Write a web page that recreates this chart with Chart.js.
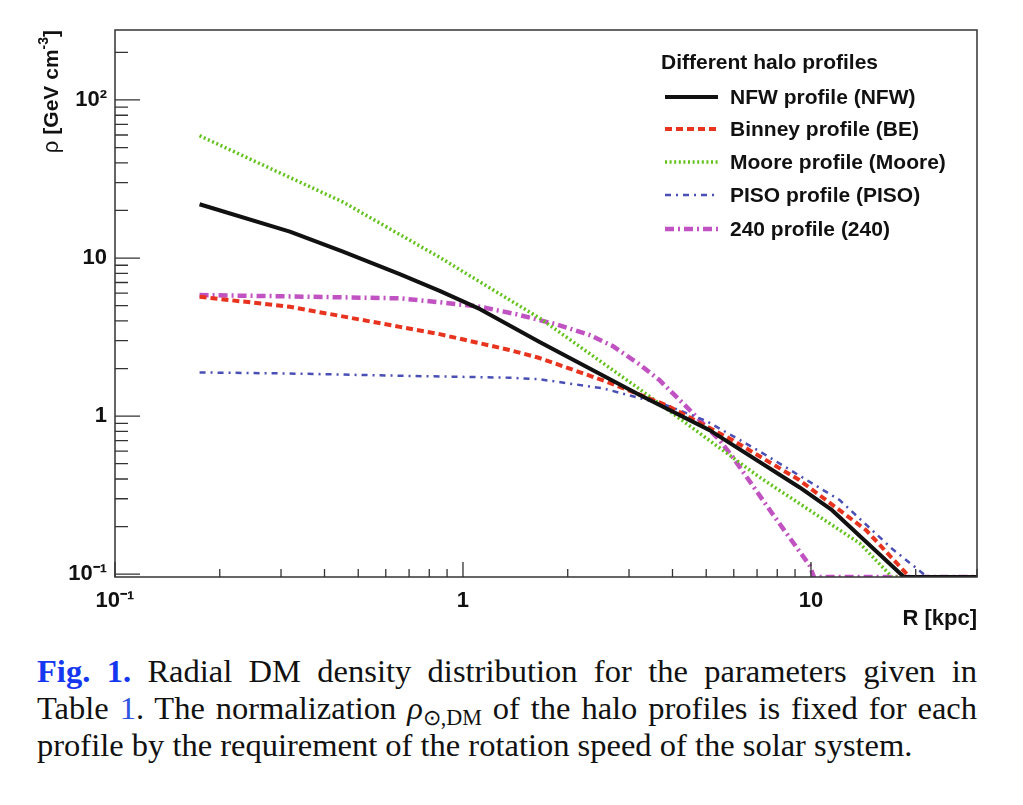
<!DOCTYPE html>
<html>
<head>
<meta charset="utf-8">
<script src="https://cdn.jsdelivr.net/npm/chart.js@4.4.1/dist/chart.umd.min.js"></script>
<style>
  body { margin: 0; background: #fff; width: 1023px; height: 805px; position: relative; overflow: hidden; }
  #chartHalo { position: absolute; left: 0; top: 0; }
  #caption {
    position: absolute; left: 37px; top: 653px; width: 940px;
    font-family: "Liberation Serif", "Times New Roman", serif; font-size: 32.5px;
    line-height: 37px; color: #111;
  }
  #caption .j { text-align: justify; text-align-last: justify; }
  #caption .fig { color: #1537f0; font-weight: bold; }
  #caption .ref { color: #2f55e0; }
  #caption sub { font-size: 0.68em; line-height: 0; vertical-align: -0.25em; }
</style>
</head>
<body>
<canvas id="chartHalo" width="1023" height="640"></canvas>
<div id="caption">
  <div class="j"><span class="fig">Fig. 1.</span> Radial DM density distribution for the parameters given in</div>
  <div class="j">Table <span class="ref">1</span>. The normalization <i>ρ</i><sub>⊙,DM</sub> of the halo profiles is fixed for each</div>
  <div>profile by the requirement of the rotation speed of the solar system.</div>
</div>
<script>
// Section: datos (R en kpc, rho en GeV cm^-3)

const nfwR = [0.175, 0.318, 0.452, 0.658, 0.857, 1.12, 1.66, 3.22, 5.11, 9.26, 11.5, 18.5, 30];
const nfwRho = [21.9, 14.7, 10.96, 7.9, 6.2, 4.75, 2.94, 1.36, 0.815, 0.355, 0.254, 0.096, 0.096];

const beR = [0.175, 0.318, 0.658, 0.857, 1.36, 1.66, 2.59, 3.85, 5.95, 9.26, 14.4, 19.2, 30];
const beRho = [5.69, 4.92, 3.67, 3.3, 2.62, 2.33, 1.65, 1.17, 0.705, 0.394, 0.19, 0.096, 0.096];

const mooreR = [0.175, 0.452, 0.857, 1.12, 1.66, 3.22, 7.11, 13.8, 17.1, 30];
const mooreRho = [59.4, 22.6, 10.1, 7.05, 4.17, 1.48, 0.411, 0.157, 0.096, 0.096];

const pisoR = [0.175, 0.318, 0.658, 1.36, 1.66, 2.52, 3.85, 5.01, 7.11, 12.1, 17.1, 21.6, 30];
const pisoRho = [1.89, 1.86, 1.8, 1.75, 1.71, 1.5, 1.17, 0.93, 0.6, 0.294, 0.145, 0.096, 0.096];

const m240R = [0.175, 0.318, 0.658, 0.857, 1.12, 1.43, 1.86, 2.31, 2.69, 3.22, 3.67, 4.39, 5.46, 5.95, 7.74, 9.9, 10.2, 30];
const m240Rho = [5.83, 5.72, 5.56, 5.25, 4.92, 4.4, 3.8, 3.26, 2.78, 2.12, 1.69, 1.145, 0.705, 0.553, 0.242, 0.114, 0.096, 0.096];

const xTickValues = [0.1, 1, 10];
const yTickValues = [0.1, 1, 10, 100];
const tickLabels = { 0.1: "10⁻¹", 1: "1", 10: "10", 100: "10²" };

const legendTitle = "Different halo profiles";
const xTitle = "R [kpc]";

const FONT = "'Liberation Sans', Arial, Helvetica, sans-serif";

function toPoints(rs, rhos) {
  return rs.map((r, i) => ({ x: r, y: rhos[i] }));
}

// Section: plugin para marco, ticks internos, títulos y leyenda estilo ROOT

const rootStyle = {
  id: "rootStyle",
  afterDraw(chart) {
    const ctx = chart.ctx;
    const area = chart.chartArea;
    const xs = chart.scales.x;
    const ys = chart.scales.y;

    ctx.save();
    ctx.strokeStyle = "#333";
    ctx.lineWidth = 1.5;
    ctx.strokeRect(area.left, area.top, area.right - area.left, area.bottom - area.top);

    // ticks del eje y (hacia adentro)
    ctx.lineWidth = 1.3;
    ctx.beginPath();
    for (const d of [0.1, 1, 10, 100]) {
      for (let k = 1; k <= 9; k++) {
        const v = k * d;
        if (v < ys.min || v > ys.max) continue;
        const py = ys.getPixelForValue(v);
        const len = k === 1 ? 25 : 13;
        ctx.moveTo(area.left, py);
        ctx.lineTo(area.left + len, py);
      }
    }
    // ticks del eje x
    for (const d of [0.1, 1, 10]) {
      for (let k = 1; k <= 9; k++) {
        const v = k * d;
        if (v < xs.min || v > xs.max) continue;
        const px = xs.getPixelForValue(v);
        const len = k === 1 ? 15 : 8;
        ctx.moveTo(px, area.bottom);
        ctx.lineTo(px, area.bottom - len);
      }
    }
    ctx.stroke();

    // título eje x
    ctx.fillStyle = "#111";
    ctx.font = "bold 22px " + FONT;
    ctx.textAlign = "right";
    ctx.textBaseline = "alphabetic";
    ctx.fillText(xTitle, area.right, 625);

    // título eje y, rotado
    ctx.save();
    ctx.translate(58, area.top);
    ctx.rotate(-Math.PI / 2);
    ctx.textAlign = "left";
    const parts = [
      { t: "ρ ", f: "22px " + FONT, dy: 0 },
      { t: "[GeV cm", f: "bold 21px " + FONT, dy: 0 },
      { t: "-3", f: "bold 14px " + FONT, dy: -10 },
      { t: "]", f: "bold 21px " + FONT, dy: 0 },
    ];
    let total = 0;
    for (const p of parts) {
      ctx.font = p.f;
      p.w = ctx.measureText(p.t).width;
      total += p.w;
    }
    let cx = -total;
    for (const p of parts) {
      ctx.font = p.f;
      ctx.fillText(p.t, cx, p.dy);
      cx += p.w;
    }
    ctx.restore();

    // leyenda
    ctx.textAlign = "left";
    ctx.textBaseline = "middle";
    ctx.font = "bold 21px " + FONT;
    ctx.fillText(legendTitle, 661, 63);
    const rowY = [97, 129, 162, 195, 229];
    chart.data.datasets.forEach((ds, i) => {
      const y = rowY[i];
      ctx.save();
      ctx.strokeStyle = ds.borderColor;
      ctx.lineWidth = ds.borderWidth;
      ctx.setLineDash(ds.borderDash || []);
      ctx.beginPath();
      ctx.moveTo(665, y);
      ctx.lineTo(718, y);
      ctx.stroke();
      ctx.restore();
      ctx.fillStyle = "#111";
      ctx.font = "bold 21px " + FONT;
      ctx.fillText(ds.label, 730, y + 1);
    });
    ctx.restore();
  },
};

// Section: gráfico

const contexto = document.getElementById("chartHalo").getContext("2d");

new Chart(contexto, {
  type: "line",
  data: {
    datasets: [
      {
        label: "NFW profile (NFW)",
        data: toPoints(nfwR, nfwRho),
        borderColor: "#111111",
        borderWidth: 4,
        borderDash: [],
      },
      {
        label: "Binney profile (BE)",
        data: toPoints(beR, beRho),
        borderColor: "#e8331f",
        borderWidth: 4,
        borderDash: [7, 4],
      },
      {
        label: "Moore profile (Moore)",
        data: toPoints(mooreR, mooreRho),
        borderColor: "#62c21a",
        borderWidth: 3.5,
        borderDash: [2, 2.6],
      },
      {
        label: "PISO profile (PISO)",
        data: toPoints(pisoR, pisoRho),
        borderColor: "#4a4fb5",
        borderWidth: 2.5,
        borderDash: [6, 5, 2, 5],
      },
      {
        label: "240 profile (240)",
        data: toPoints(m240R, m240Rho),
        borderColor: "#c152c2",
        borderWidth: 4.5,
        borderDash: [9, 4, 2, 4],
      },
    ],
  },
  options: {
    responsive: false,
    animation: false,
    layout: { padding: { top: 30, right: 46, left: 0, bottom: 0 } },
    elements: {
      point: { radius: 0 },
      line: { tension: 0, borderCapStyle: "butt", borderJoinStyle: "round" },
    },
    plugins: {
      legend: { display: false },
      tooltip: { enabled: false },
    },
    scales: {
      x: {
        type: "logarithmic",
        min: 0.1,
        max: 30,
        grid: { display: false, drawTicks: false },
        border: { display: false },
        afterBuildTicks: (axis) => {
          axis.ticks = xTickValues.map((v) => ({ value: v }));
        },
        afterFit: (axis) => {
          axis.height = 63;
        },
        ticks: {
          autoSkip: false,
          maxRotation: 0,
          padding: 11,
          color: "#111",
          font: { family: FONT, size: 22, weight: "bold" },
          callback: (v) => tickLabels[v] || "",
        },
      },
      y: {
        type: "logarithmic",
        min: 0.096,
        max: 277,
        grid: { display: false, drawTicks: false },
        border: { display: false },
        afterBuildTicks: (axis) => {
          axis.ticks = yTickValues.map((v) => ({ value: v }));
        },
        afterFit: (axis) => {
          axis.width = 115;
        },
        ticks: {
          autoSkip: false,
          padding: 8,
          color: "#111",
          font: { family: FONT, size: 22, weight: "bold" },
          callback: (v) => tickLabels[v] || "",
        },
      },
    },
  },
  plugins: [rootStyle],
});
</script>
</body>
</html>
